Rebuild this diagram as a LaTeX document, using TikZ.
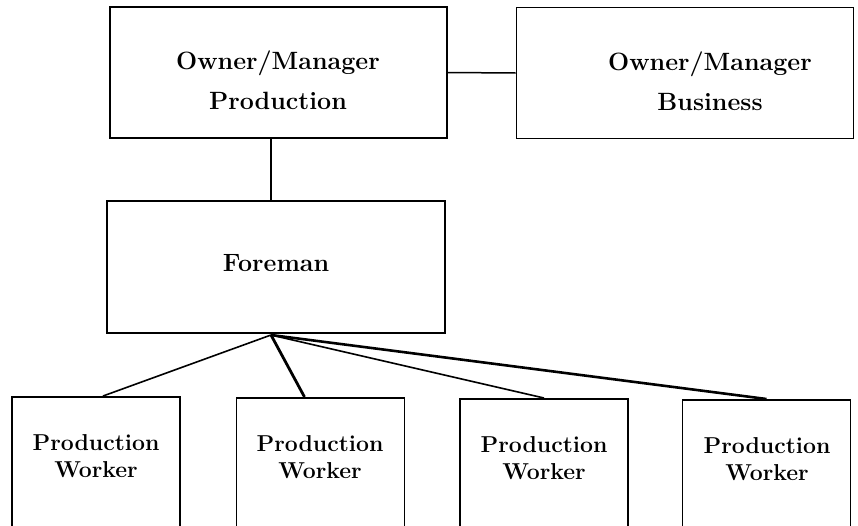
\documentclass[tikz,border=0pt]{standalone}
\usetikzlibrary{positioning}

\tikzset{
  box/.style={draw, line width=1.8pt, inner sep=0pt, minimum width=337pt, minimum height=131pt},
  workerbox/.style={draw, line width=1.8pt, inner sep=0pt, anchor=north, minimum width=168pt, minimum height=160pt},
  toptext/.style={align=center, font=\fontsize{25}{40}\selectfont\bfseries},
  workertext/.style={align=center, font=\fontsize{23}{27}\selectfont\bfseries}
}

\begin{document}
\begin{tikzpicture}[x=1pt, y=-1pt]
      \useasboundingbox (0, 0) rectangle (858, 525);
      \clip (0, 0) rectangle (858, 525);

      \node[box] (prod) at (278.5, 72.5) {};
      \node[box] (bus) at (685, 73) {};
      \node[box, minimum width=338pt, minimum height=132pt] (fore) at (276, 267) {};

      \node[toptext] (prodtext) at (278, 80) {Owner/Manager\\Production};
      \node[toptext] (bustext) at (710, 81) {Owner/Manager\\Business};
      \node[toptext] (foretext) at (276, 263) {Foreman};

      \node[workerbox] (w1) at (96, 396) {};
      \node[workerbox] (w2) at (320.5, 397) {};
      \node[workerbox] (w3) at (544, 398) {};
      \node[workerbox] (w4) at (766.5, 399) {};

      \node[workertext] (w1text) at (96, 456) {Production\\Worker};
      \node[workertext] (w2text) at (320, 457) {Production\\Worker};
      \node[workertext] (w3text) at (544, 458) {Production\\Worker};
      \node[workertext] (w4text) at (767, 459) {Production\\Worker};

      \coordinate (hub) at (271, 335);

      \draw[line width=1.5pt] (prod.east) -- (bus.west);
      \draw[line width=1.5pt] (prod.south -| hub) -- (fore.north -| hub);

      \draw[line width=1.6pt] (hub) -- ([xshift=7pt]w1.north);
      \draw[line width=2.8pt] (hub) -- ([xshift=-16pt]w2.north);
      \draw[line width=1.6pt] (hub) -- (w3.north);
      \draw[line width=2.6pt] (hub) -- (w4.north);
    \end{tikzpicture}
\end{document}
